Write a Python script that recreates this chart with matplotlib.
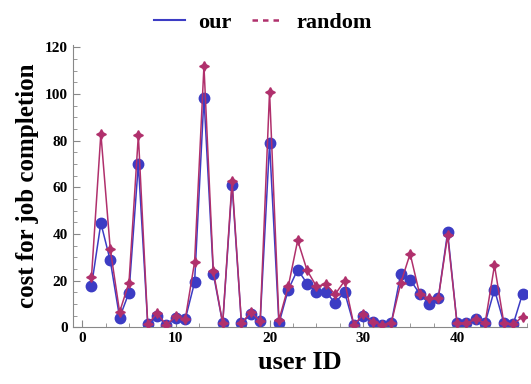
import matplotlib.pyplot as plt
from matplotlib.lines import Line2D
from matplotlib.ticker import MultipleLocator

plt.rcParams['font.family'] = ['Liberation Serif', 'DejaVu Serif']
plt.rcParams['font.weight'] = 'bold'

user_id = list(range(1, 48))
cost_our = [17.6, 44.6, 28.6, 4.1, 14.8, 70.0, 1.3, 4.7, 0.9, 4.0,
            3.3, 19.2, 98.4, 22.9, 1.6, 61.0, 1.6, 5.6, 2.6, 78.8,
            1.6, 16.1, 24.7, 18.7, 15.1, 15.1, 10.4, 15.1, 0.9, 4.7,
            2.3, 0.9, 2.0, 22.9, 20.4, 14.4, 10.1, 12.3, 40.7, 1.8,
            1.8, 3.3, 1.8, 16.1, 1.8, 1.3, 14.4]
cost_random = [21.5, 83.0, 33.6, 6.5, 19.1, 82.3, 1.3, 5.9, 0.9, 4.7,
               3.3, 27.9, 112.0, 24.1, 1.6, 62.8, 1.6, 6.5, 2.6, 101.0,
               3.0, 17.5, 37.2, 24.4, 17.5, 18.4, 14.1, 19.8, 0.9, 5.6,
               2.3, 0.9, 2.0, 18.9, 31.5, 14.4, 12.3, 12.3, 39.3, 1.8,
               1.8, 3.3, 1.8, 26.5, 1.8, 1.3, 4.4]

blue = '#3c3cc4'
red = '#b0306c'

fig = plt.figure(figsize=(5.31, 3.84), dpi=100)
ax = fig.add_axes([0.137, 0.148, 0.856, 0.735])

ax.plot(user_id, cost_our, color=blue, lw=1.1, marker='o', ms=7.5, zorder=2)
ax.plot(user_id, cost_random, color=red, lw=1.1, marker=(4, 1, 0), ms=7, zorder=3)

ax.set_xlim(-1, 47.5)
ax.set_ylim(0, 121)
ax.xaxis.set_major_locator(MultipleLocator(10))
ax.xaxis.set_minor_locator(MultipleLocator(2.5))
ax.yaxis.set_major_locator(MultipleLocator(20))
ax.yaxis.set_minor_locator(MultipleLocator(5))
ax.tick_params(which='both', direction='in', color='#888888', labelsize=11)
ax.tick_params(which='major', length=5)
ax.tick_params(which='minor', length=3)
for s in ['top', 'right']:
    ax.spines[s].set_visible(False)
for s in ['left', 'bottom']:
    ax.spines[s].set_color('#888888')

ax.set_xlabel('user ID', fontsize=19, fontweight='bold')
ax.set_ylabel('cost for job completion', fontsize=18, fontweight='bold')

handles = [Line2D([], [], color=blue, lw=1.5),
           Line2D([], [], color=red, lw=1.8, ls=(0, (2.2, 2)))]
fig.legend(handles, ['our', 'random'], loc='upper center', bbox_to_anchor=(0.495, 1.02),
           ncol=2, frameon=False, fontsize=16, handlelength=1.4, columnspacing=0.9,
           handletextpad=0.6)

fig.savefig('out.png', dpi=100)
